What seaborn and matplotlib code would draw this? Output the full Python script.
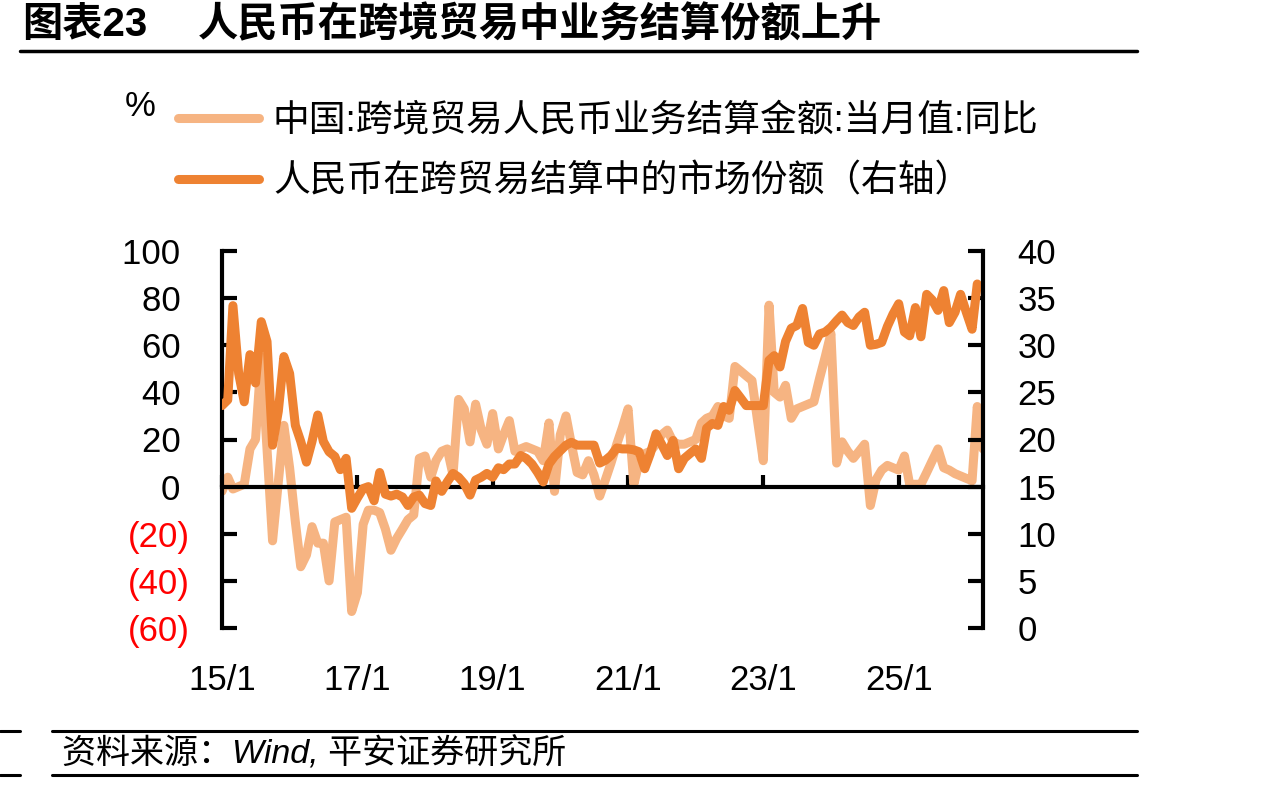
import matplotlib
matplotlib.use('Agg')
import pandas as pd
import seaborn as sns
from matplotlib import pyplot as plt
from matplotlib.lines import Line2D

# 中国:跨境贸易人民币业务结算金额:当月值:同比 (%), 2015/1 起按月
settle_yoy = [
    -2, 4, -1, 0, 1, 16, 20, 55, 16, -23,
    2, 26, 8, -15, -34, -29, -17, -24, -24, -40,
    -15, -14, -13, -53, -45, -16, -10, -10, -11, -18,
    -27, -22, -18, -14, -12, 12, 13, 4, 11, 15,
    16, 5, 37, 33, 19, 35, 24, 18, 31, 16,
    22, 28, 15, 16, 17, 16, 15, 11, 27, -2,
    22, 30, 18, 6, 5, 11, 5, -4, 3, 10,
    18, 25, 33, 1, 10, 14, 15, 18, 22, 24,
    19, 18, 18, 19, 20, 27, 29, 30, 34, 30,
    29, 51, 49, 47, 45, 28, 11, 77, 40, 38,
    43, 29, 33, 34, 35, 36, 46, 55, 65, 10,
    19, 15, 12, 15, 18, -8, 3, 7, 9, 8,
    7, 13, 1, 1, 1, 6, 11, 16, 8, 7,
    5.5, 4.5, 3.5, 2.5, 34, 16,
]

# 人民币在跨贸易结算中的市场份额 (%, 右轴)
rmb_share = [
    23.6, 24.2, 34.2, 27, 24, 29, 26, 32.5, 30.4, 19.4,
    23, 28.8, 27, 21.5, 19.8, 17.6, 19.8, 22.6, 19.8, 18.7,
    18.2, 16.8, 18, 12.7, 13.8, 14.8, 15, 13.5, 16.5, 14.2,
    14, 14.2, 13.9, 13, 13.9, 14.1, 13.2, 13, 15.6, 14.5,
    15.5, 16.4, 16, 15.3, 14.1, 15.7, 16, 16.4, 16, 17,
    16.8, 17.4, 17.4, 18.3, 18, 17.4, 16.5, 15.5, 17.4, 18.2,
    18.8, 19.4, 19.7, 19.4, 19.4, 19.4, 19.4, 17.5, 17.8, 18.3,
    19.1, 19, 19, 18.9, 18.7, 16.9, 18.5, 20.6, 19.5, 18.3,
    19.9, 16.9, 18, 18.5, 19, 18, 21.2, 21.7, 21.5, 23.5,
    23.1, 25.2, 24.4, 23.6, 23.6, 23.6, 23.6, 28.4, 28.9, 27.7,
    30.4, 31.8, 32.1, 33.9, 30.3, 30, 31.2, 31.4, 31.9, 32.6,
    33.2, 32.4, 32.1, 33, 33.5, 30, 30.1, 30.3, 32, 33.3,
    34.4, 31.4, 31, 34, 30.9, 35.4, 34.8, 33.7, 35.8, 32.4,
    33.5, 35.4, 33.5, 31.7, 36.5,
]

series_names = ['中国:跨境贸易人民币业务结算金额:当月值:同比',
                '人民币在跨贸易结算中的市场份额（右轴）']
xtick_dates = ['2015-01-01', '2017-01-01', '2019-01-01', '2021-01-01', '2023-01-01', '2025-01-01']
xtick_labels = ['15/1', '17/1', '19/1', '21/1', '23/1', '25/1']
left_ticks = [-60, -40, -20, 0, 20, 40, 60, 80, 100]
right_ticks = [0, 5, 10, 15, 20, 25, 30, 35, 40]

LIGHT = '#F6B482'
DARK = '#EE8232'
TICK_FS = 25
LW = 6.5

sns.set_theme(style='white')
plt.rcParams['font.family'] = ['Liberation Sans', 'Noto Sans CJK SC', 'DejaVu Sans']
plt.rcParams['text.color'] = 'black'
plt.rcParams['xtick.color'] = 'black'
plt.rcParams['ytick.color'] = 'black'

df1 = pd.DataFrame({'date': pd.date_range('2015-01-01', periods=len(settle_yoy), freq='MS'),
                    'value': settle_yoy})
df2 = pd.DataFrame({'date': pd.date_range('2015-01-01', periods=len(rmb_share), freq='MS'),
                    'value': rmb_share})

fig = plt.figure(figsize=(12.82, 7.87), dpi=100)
ax = fig.add_axes([222 / 1282, 1 - 628 / 787, 761 / 1282, 377 / 787])
sns.lineplot(data=df1, x='date', y='value', ax=ax, color=LIGHT, lw=LW, legend=False)
ax2 = ax.twinx()
sns.lineplot(data=df2, x='date', y='value', ax=ax2, color=DARK, lw=LW, legend=False)

ax.set_xlim(df1['date'].iloc[0], df1['date'].iloc[-1])
ax.set_ylim(-60, 100)
ax2.set_ylim(0, 40)
ax.set_xlabel('')
ax.set_ylabel('')
ax2.set_ylabel('')

# spines: left / right axes, zero line as x axis
for a in (ax, ax2):
    for s in a.spines.values():
        s.set_visible(False)
        s.set_color('black')
        s.set_linewidth(3)
ax.spines['left'].set_visible(True)
ax.spines['bottom'].set_visible(True)
ax.spines['bottom'].set_position(('data', 0))
ax2.spines['right'].set_visible(True)

# excel style "0 ;(0)" labels, positives keep room for the bracket
ax.set_yticks(left_ticks, [f'({abs(v)})' if v < 0 else f'{v} ' for v in left_ticks])
ax2.set_yticks(right_ticks, [str(v) for v in right_ticks])
ax.set_xticks(pd.to_datetime(xtick_dates), xtick_labels)

ax.tick_params(axis='y', direction='in', length=11, width=3, labelsize=TICK_FS, pad=23,
               color='black', left=True)
ax2.tick_params(axis='y', direction='in', length=11, width=3, labelsize=TICK_FS, pad=25,
                color='black', right=True)
ax.tick_params(axis='x', direction='in', length=9, width=3, labelsize=TICK_FS, pad=128,
               color='black', bottom=True)
for lab, v in zip(ax.get_yticklabels(), left_ticks):
    lab.set_color('red' if v < 0 else 'black')

# legend
handles = [Line2D([], [], color=LIGHT, lw=LW), Line2D([], [], color=DARK, lw=LW)]
fig.legend(handles, series_names, loc='upper left', bbox_to_anchor=(178 / 1282, 1 - 104 / 787),
           frameon=False, fontsize=26.5, handlelength=2.2, handletextpad=0.38,
           labelspacing=0.7, borderpad=0, borderaxespad=0)
fig.text(140 / 1282, 1 - 106 / 787, '%', fontsize=25, ha='center', va='center')

# title and rules
fig.text(22 / 1282, 1 - 25 / 787, '图表23', fontsize=29, fontweight='bold', va='center')
fig.text(198 / 1282, 1 - 25 / 787, '人民币在跨境贸易中业务结算份额上升', fontsize=29,
         fontweight='bold', va='center')
fig.add_artist(Line2D([20 / 1282, 1137 / 1282], [1 - 51 / 787] * 2, color='black', lw=2.5,
                      transform=fig.transFigure))
for yy in (731, 775):
    fig.add_artist(Line2D([0, 20 / 1282], [1 - yy / 787] * 2, color='black', lw=2.2,
                          transform=fig.transFigure))
    fig.add_artist(Line2D([52 / 1282, 1137 / 1282], [1 - yy / 787] * 2, color='black', lw=2.2,
                          transform=fig.transFigure))
fig.text(62 / 1282, 1 - 754 / 787, '资料来源：Wind, 平安证券研究所', fontsize=24.5,
         style='italic', va='center')

fig.savefig('out.png', dpi=100)
